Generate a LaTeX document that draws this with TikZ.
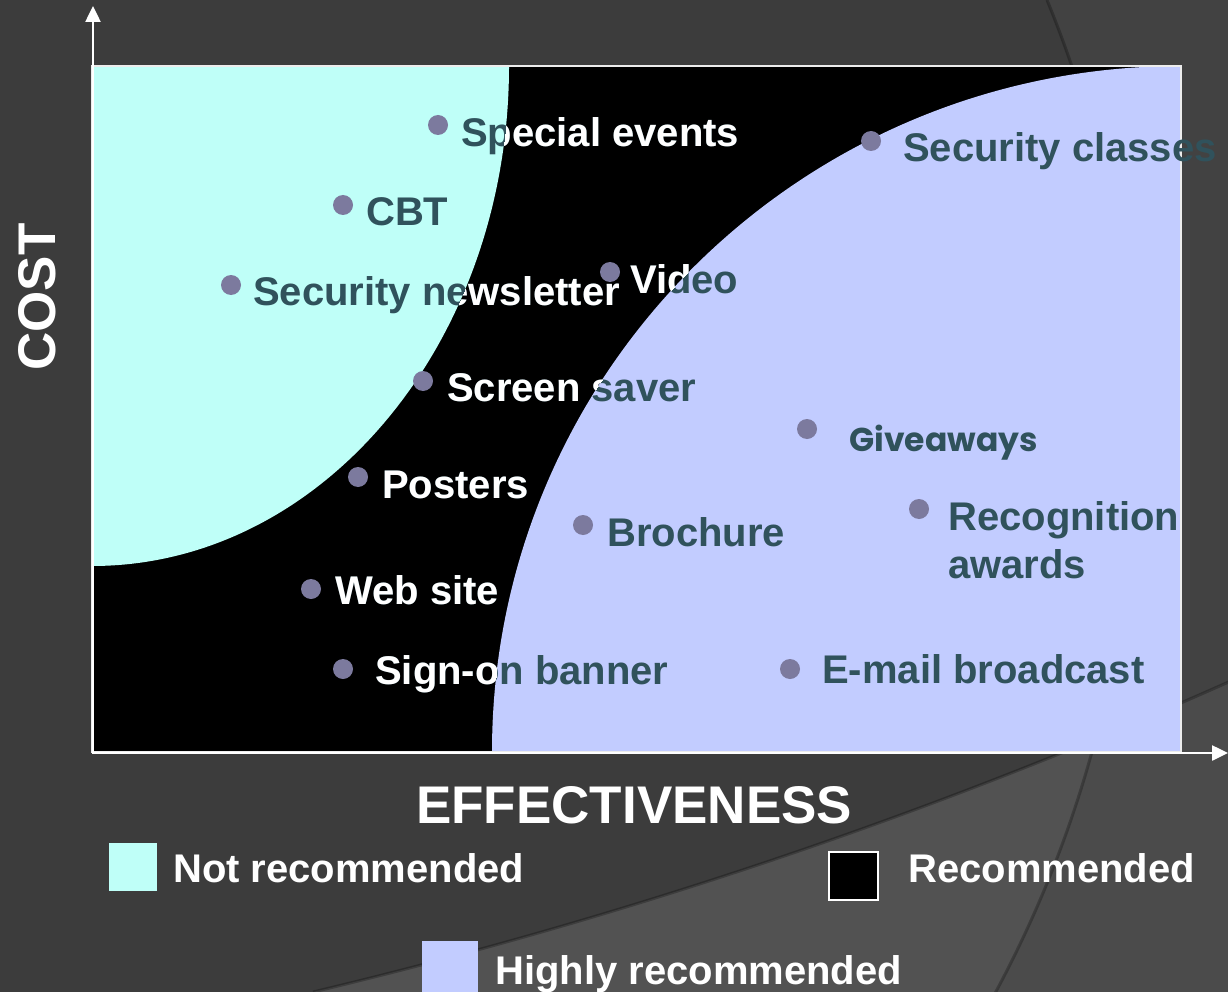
\documentclass[tikz,border=0pt]{standalone}
\usepackage{fontspec}
\setmainfont{Liberation Sans}
\newfontfamily\gfont{Poppins}
\usetikzlibrary{arrows.meta}
\definecolor{bgc}{HTML}{3C3C3C}
\definecolor{bgr}{HTML}{424242}
\definecolor{bgl}{HTML}{525252}
\definecolor{bglr}{HTML}{4B4B4B}
\definecolor{cyanc}{HTML}{BFFFF8}
\definecolor{lavc}{HTML}{C2CCFF}
\definecolor{txtc}{HTML}{30525C}
\definecolor{dotc}{HTML}{7C7A9E}
\newcommand\drawlabels[2]{%
  \node[lbl,text=#1] (se#2) at (461,147) {Special events};
  \node[lbl,text=#1] (cb#2) at (366,226) {CBT};
  \node[lbl,text=#1] (sn#2) at (253,305) {Security newsletter};
  \node[lbl,text=#1] (vi#2) at (630,293) {Video};
  \node[lbl,text=#1] (ss#2) at (447,401) {Screen saver};
  \node[lbl,text=#1] (po#2) at (382,498) {Posters};
  \node[lbl,text=#1] (ws#2) at (335,604) {Web site};
  \node[lbl,text=#1] (sb#2) at (375,684) {Sign-on banner};
  \node[lbl,text=#1] (sc#2) at (903,162) {Security classes};
  \node[glbl,text=#1] (gv#2) at (849,451) {Giveaways};
  \node[lbl,text=#1] (ra#2) at (948,530) {Recognition};
  \node[lbl,text=#1] (rb#2) at (948,578) {awards};
  \node[lbl,text=#1] (br#2) at (607,546) {Brochure};
  \node[lbl,text=#1] (em#2) at (822,683) {E-mail broadcast};
}
\begin{document}
\begin{tikzpicture}[x=1pt,y=-1pt,
  lbl/.style={anchor=base west,inner sep=0pt,font=\fontsize{40}{48}\selectfont\bfseries},
  glbl/.style={anchor=base west,inner sep=0pt,font=\gfont\fontsize{33}{40}\selectfont\bfseries},
  wtxt/.style={anchor=base west,inner sep=0pt,text=white,font=\fontsize{40}{48}\selectfont\bfseries},
  axtxt/.style={inner sep=0pt,text=white,font=\fontsize{53}{60}\selectfont\bfseries},
  dot/.style={circle,fill=dotc,minimum size=20pt,inner sep=0pt},
  axis/.style={white,line width=2.5pt,-{Triangle[length=16pt,width=15pt]}},
  swatch/.style={anchor=north west,inner sep=0pt}]
\useasboundingbox (0,0) rectangle (1228,992);
% background
\fill[bgc] (0,0) rectangle (1228,992);
\fill[bgr] (1047,0) arc[start angle=22.3,end angle=-28.3,radius=1164pt] -- (1228,992) -- (1228,0) -- cycle;
\fill[bgl] (313,992) arc[start angle=-76.58,end angle=-65.99,radius=5236pt] -- (1228,992) -- cycle;
\begin{scope}
  \clip (1047,0) arc[start angle=22.3,end angle=-28.3,radius=1164pt] -- (1228,992) -- (1228,0) -- cycle;
  \fill[bglr] (313,992) arc[start angle=-76.58,end angle=-65.99,radius=5236pt] -- (1228,992) -- cycle;
\end{scope}
\draw[black,opacity=0.25,line width=3pt] (313,992) arc[start angle=-76.58,end angle=-65.99,radius=5236pt];
\draw[black,opacity=0.25,line width=3pt] (1047,0) arc[start angle=22.3,end angle=-28.3,radius=1164pt];
% plot regions
\fill[black] (92,66) rectangle (1181,752);
\fill[cyanc] (92,66) -- (509,66) arc[start angle=0,end angle=-90,x radius=417pt,y radius=500pt] -- cycle;
\fill[lavc] (1181,66) arc[start angle=90,end angle=180,x radius=689pt,y radius=686pt] -- (1181,752) -- cycle;
\draw[white!85!gray,line width=1.5pt] (92,66) rectangle (1181,752);
% axes
\coordinate (o) at (93,753);
\coordinate (ytip) at (93,6);
\coordinate (xtip) at (1228,753);
\draw[axis] (o) -- (ytip);
\draw[axis] (92,753) -- (xtip);
% dots
\node[dot] (d1) at (438,125) {};
\node[dot] (d2) at (343,205) {};
\node[dot] (d3) at (231,285) {};
\node[dot] (d4) at (610,272) {};
\node[dot] (d5) at (423,381) {};
\node[dot] (d6) at (358,477) {};
\node[dot] (d7) at (311,589) {};
\node[dot] (d8) at (343,669) {};
\node[dot] (d9) at (871,141) {};
\node[dot] (d10) at (807,429) {};
\node[dot] (d11) at (919,509) {};
\node[dot] (d12) at (583,525) {};
\node[dot] (d13) at (790,669) {};
% labels: dark everywhere, white over the black region
\drawlabels{txtc}{d}
\begin{scope}
  \clip (509,66) -- (1181,66) arc[start angle=90,end angle=180,x radius=689pt,y radius=686pt] -- (92,752) -- (92,566) arc[start angle=270,end angle=360,x radius=417pt,y radius=500pt] -- cycle;
  \drawlabels{white}{w}
\end{scope}
% axis titles
\node[axtxt,rotate=90,anchor=base] (cost) at (55,297) {COST};
\node[axtxt,anchor=base west] (eff) at (416,823) {EFFECTIVENESS};
% legend
\node[swatch,fill=cyanc,minimum width=48pt,minimum height=48pt] (sw1) at (109,843) {};
\node[wtxt] (lg1) at (173,882) {Not recommended};
\node[swatch,fill=black,draw=white,line width=1.5pt,minimum width=49pt,minimum height=48pt] (sw2) at (828,851) {};
\node[wtxt] (lg2) at (908,882) {Recommended};
\node[swatch,fill=lavc,minimum width=56pt,minimum height=60pt] (sw3) at (422,941) {};
\node[wtxt] (lg3) at (495,984) {Highly recommended};
\end{tikzpicture}
\end{document}
